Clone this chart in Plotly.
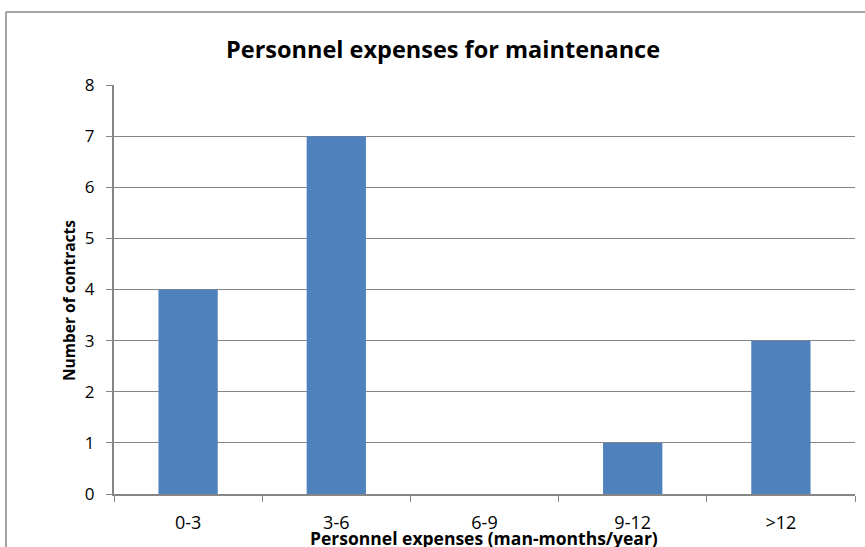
import plotly.graph_objects as go

# Contract counts per personnel-expense band (man-months per year)
categories = ["0-3", "3-6", "6-9", "9-12", ">12"]
contracts = [4, 7, 0, 1, 3]
y_ticks = [0, 1, 2, 3, 4, 5, 6, 7, 8]

W, H = 865, 547
L, R, T, B = 114, 10, 85, 53
pw, ph = W - L - R, H - T - B

def px_x(x):
    return (x - L) / pw

def px_y(y):
    return (H - B - y) / ph

FONT = "Open Sans"
GRID = "#868686"

fig = go.Figure(
    go.Bar(
        x=categories,
        y=contracts,
        marker=dict(color="#4F81BD", line=dict(width=0)),
        hoverinfo="x+y",
    )
)

fig.update_layout(
    width=W,
    height=H,
    margin=dict(l=L, r=R, t=T, b=B),
    paper_bgcolor="white",
    plot_bgcolor="white",
    bargap=0.6,
    showlegend=False,
    font=dict(family=FONT, size=17, color="black"),
)

fig.update_yaxes(
    range=[0, 8],
    tickvals=y_ticks,
    showgrid=True,
    gridcolor=GRID,
    gridwidth=1,
    showline=True,
    linecolor=GRID,
    linewidth=2,
    ticks="outside",
    ticklen=6,
    tickcolor=GRID,
    ticklabelstandoff=8,
    zeroline=False,
    tickfont=dict(size=17),
)

fig.update_xaxes(
    showgrid=False,
    showline=True,
    linecolor=GRID,
    linewidth=2,
    ticks="outside",
    tickson="boundaries",
    ticklen=6,
    tickcolor=GRID,
    ticklabelstandoff=11,
    tickfont=dict(size=18),
)

annotations = [
    dict(text="<b>Personnel expenses for maintenance</b>", x=px_x(442.5), y=px_y(49),
         xref="paper", yref="paper", showarrow=False, font=dict(size=23.5),
         xanchor="center", yanchor="middle"),
    dict(text="<b>Personnel expenses (man-months/year)</b>", x=px_x(483.5), y=px_y(538),
         xref="paper", yref="paper", showarrow=False, font=dict(size=17.5),
         xanchor="center", yanchor="middle"),
    dict(text="<b>Number of contracts</b>", x=px_x(69), y=px_y(301), textangle=-90,
         xref="paper", yref="paper", showarrow=False, font=dict(size=15.5),
         xanchor="center", yanchor="middle"),
]
fig.update_layout(annotations=annotations)

# Chart-area border (top and left edges visible)
border = dict(color=GRID, width=1.5)
fig.update_layout(shapes=[
    dict(type="line", xref="paper", yref="paper", x0=px_x(6), x1=px_x(870),
         y0=px_y(12), y1=px_y(12), line=border),
    dict(type="line", xref="paper", yref="paper", x0=px_x(6), x1=px_x(6),
         y0=px_y(12), y1=px_y(560), line=border),
])

fig.write_html("out.html")
